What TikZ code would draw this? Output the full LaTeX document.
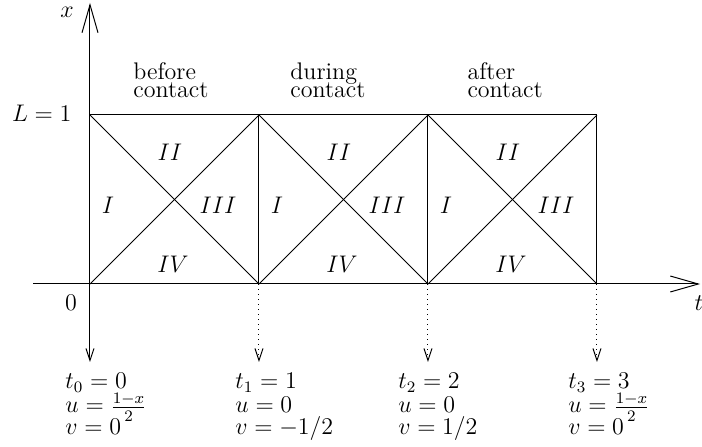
\documentclass[tikz,border=0pt]{standalone}
\usetikzlibrary{arrows.meta}
\begin{document}
\begin{tikzpicture}[x=84.5pt,y=84.5pt,line width=0.5pt]
  \tikzstyle{lbl}=[font=\large, inner sep=0pt, anchor=base west]
  \tikzstyle{zone}=[font=\large, inner sep=0pt]
  \tikzstyle{axis}=[-{Straight Barb[length=14pt,width=8pt]}]
  \tikzstyle{drop}=[-{Straight Barb[length=6pt,width=4pt]}]
  \useasboundingbox (-0.5325,-0.9586) rectangle (3.6213,1.6805);

  % grid points
  \foreach \i in {0,1,2,3} {
    \coordinate (b\i) at (\i,0);
    \coordinate (h\i) at (\i,1);
    \coordinate (d\i) at (\i,-0.4615);
  }
  \coordinate (xtip) at (0,1.663);
  \coordinate (tstart) at (-0.337,0);
  \coordinate (ttip) at (3.61,0);

  % axes
  \draw[axis] (b0) -- (xtip);
  \draw[axis] (tstart) -- (ttip);

  % squares and diagonals
  \draw (h0) -- (h3);
  \foreach \i/\j in {0/1,1/2,2/3} {
    \draw (b\j) -- (h\j);
    \draw (b\i) -- (h\j);
    \draw (h\i) -- (b\j);
  }
  \draw[drop] (b0) -- (d0);
  \foreach \i in {1,2,3} \draw[drop, dotted] (b\i) -- (d\i);

  % axis labels
  \node[lbl, anchor=base] (xlab) at (-0.136,1.574) {$x$};
  \node[lbl] (tlab) at (3.574,-0.154) {$t$};
  \node[lbl, anchor=base] (zero) at (-0.112,-0.154) {$0$};
  \node[lbl, anchor=base east] (len) at (-0.107,0.959) {$L=1$};

  % phases
  \foreach \x/\w/\n in {0.254/before/bef, 1.183/during/dur, 2.231/after/aft} {
    \node[lbl] (\n-a) at (\x,1.213) {\w};
    \node[lbl] (\n-b) at (\x,1.101) {contact};
  }

  % zones
  \foreach \i in {0,1,2} {
    \node[zone] (I\i) at (\i+0.107,0.467) {$I$};
    \node[zone] (II\i) at (\i+0.473,0.781) {$II$};
    \node[zone] (III\i) at (\i+0.757,0.467) {$III$};
    \node[zone] (IV\i) at (\i+0.491,0.118) {$IV$};
  }

  % values at t_i
  \foreach \n/\x/\u/\v in {0/-0.148/{\frac{1-x}{2}}/0, 1/0.858/0/{-1/2},
                          2/1.822/0/{1/2}, 3/2.828/{\frac{1-x}{2}}/0} {
    \node[lbl] (t\n) at (\x,-0.621) {$t_\n=\n$};
    \node[lbl] (u\n) at (\x,-0.763) {$u=\u$};
    \node[lbl] (v\n) at (\x,-0.893) {$v=\v$};
  }
\end{tikzpicture}
\end{document}
